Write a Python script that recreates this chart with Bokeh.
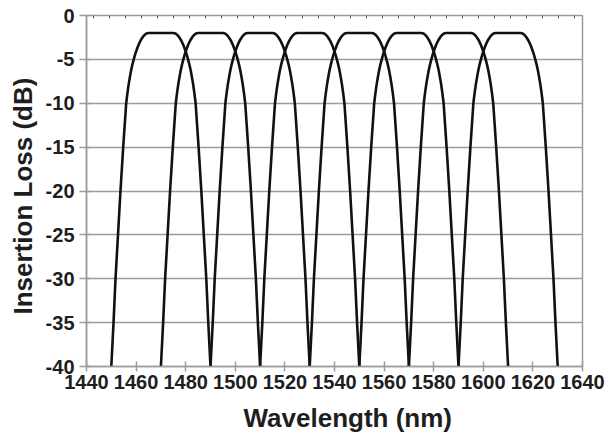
from bokeh.plotting import figure
from bokeh.models import LinearAxis, FixedTicker, Range1d, Title
from bokeh.embed import file_html
from bokeh.resources import INLINE

# Channel centre wavelengths (nm)
centers = [1470, 1490, 1510, 1530, 1550, 1570, 1590, 1610]

# Filter shape: offset from centre (nm) and insertion loss (dB)
shape_offset = [-20.0, -19.1, -18.3, -17.3, -16.3, -15.2, -14.0, -13.5, -13.0, -12.5,
                -12.0, -11.5, -11.0, -10.5, -10.0, -9.5, -9.0, -8.5, -8.0, -7.5,
                -7.0, -6.5, -6.0, -5.5, -5.0, 0.0,
                5.0, 5.5, 6.0, 6.5, 7.0, 7.5, 8.0, 8.5, 9.0, 9.5,
                10.0, 10.5, 11.0, 11.5, 12.0, 12.5, 13.0, 13.5, 14.0,
                15.2, 16.3, 17.3, 18.3, 19.1, 20.0]
shape_loss = [-40.0, -35.0, -30.0, -25.0, -20.0, -15.0, -10.0, -8.85, -7.85, -7.0,
              -6.25, -5.6, -5.05, -4.55, -4.1, -3.7, -3.34, -3.03, -2.76, -2.53,
              -2.34, -2.19, -2.08, -2.02, -2.0, -2.0,
              -2.0, -2.02, -2.08, -2.19, -2.34, -2.53, -2.76, -3.03, -3.34, -3.7,
              -4.1, -4.55, -5.05, -5.6, -6.25, -7.0, -7.85, -8.85, -10.0,
              -15.0, -20.0, -25.0, -30.0, -35.0, -40.0]

x_ticks = [1440, 1460, 1480, 1500, 1520, 1540, 1560, 1580, 1600, 1620, 1640]
y_ticks = [-40, -35, -30, -25, -20, -15, -10, -5, 0]
y_tick_labels = ["-40", "-35", "-30", "-25", "-20", "-15", "-10", "-5", "0"]
x_title = "Wavelength (nm)"
y_title = "Insertion Loss (dB)"

GRAY = "#9c9c9c"
TEXT = "#1e1e1e"
FONT = "Liberation Sans"

p = figure(frame_width=496, frame_height=351,
           x_range=Range1d(1440, 1640), y_range=Range1d(-40, 0),
           output_backend="svg", toolbar_location=None,
           min_border_left=84, min_border_right=28, min_border_top=15, min_border_bottom=60)
p.outline_line_color = GRAY
p.outline_line_width = 1.5
p.background_fill_color = "white"
p.border_fill_color = "white"

p.xgrid.visible = False
p.ygrid.ticker = FixedTicker(ticks=y_ticks)
p.ygrid.grid_line_color = GRAY
p.ygrid.grid_line_width = 1.5

for ax in (p.xaxis[0], p.yaxis[0]):
    ax.axis_line_color = GRAY
    ax.axis_line_width = 1.5
    ax.major_tick_line_color = GRAY
    ax.major_tick_line_width = 1.5
    ax.minor_tick_line_color = None
    ax.major_label_text_font = FONT
    ax.major_label_text_font_style = "bold"
    ax.major_label_text_font_size = "20px"
    ax.major_label_text_color = TEXT

p.xaxis.ticker = FixedTicker(ticks=x_ticks)
p.xaxis.major_tick_in = 5
p.xaxis.major_tick_out = 5
p.xaxis.major_label_standoff = 3

p.yaxis.ticker = FixedTicker(ticks=y_ticks)
p.yaxis.major_label_overrides = {t: s for t, s in zip(y_ticks, y_tick_labels)}
p.yaxis.major_tick_in = 4
p.yaxis.major_tick_out = 7
p.yaxis.major_label_standoff = 5

# small inward ticks along the top border
top_ticks = [1442.8 + 6.47 * k for k in range(31)]
top = LinearAxis(ticker=FixedTicker(ticks=top_ticks), axis_line_color=None,
                 major_tick_in=3, major_tick_out=0, major_tick_line_color="#555555",
                 major_tick_line_width=1, minor_tick_line_color=None,
                 major_label_text_font_size="1px", major_label_text_color=None,
                 major_label_standoff=0)
p.add_layout(top, "above")

for c in centers:
    xs = [c + o for o in shape_offset]
    p.line(xs, shape_loss, line_color="#111111", line_width=2.6)

p.add_layout(Title(text=x_title, align="left", offset=157, standoff=19,
                   text_font=FONT, text_font_style="bold", text_font_size="26px",
                   text_color=TEXT), "below")
p.add_layout(Title(text=y_title, align="left", offset=52, standoff=10,
                   text_font=FONT, text_font_style="bold", text_font_size="26px",
                   text_color=TEXT), "left")

out = file_html(p, INLINE)
open("out.html", "w").write(out)
